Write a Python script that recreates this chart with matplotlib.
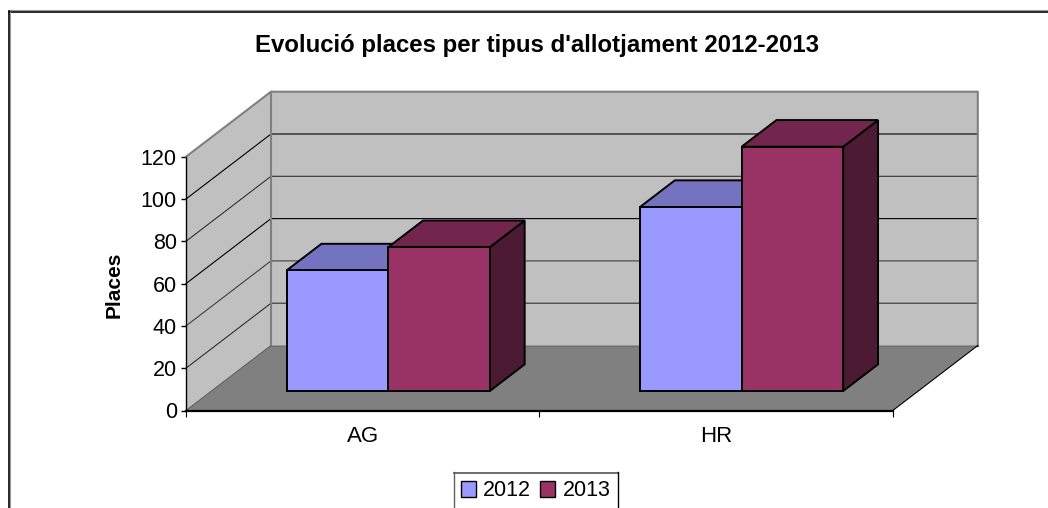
#!/usr/bin/env python3
"""Evolucio places per tipus d'allotjament 2012-2013, Excel style 3D columns."""

import matplotlib
matplotlib.use("Agg")
import matplotlib.pyplot as plt
from matplotlib.lines import Line2D
from matplotlib.patches import Patch, Polygon

# ---- data
categories = ["AG", "HR"]
years = ["2012", "2013"]
places_2012 = [57, 87]
places_2013 = [68, 115.5]
y_ticks = [0, 20, 40, 60, 80, 100, 120]

# ---- picture geometry, in pixels
W, H = 1048, 508
X0_PX, CAT_PX = 186.0, 353.4     # x of category 0, px per category
Y0_PX, VAL_PX = 410.5, 2.115     # y of value 0, px per value
DEPTH_X = 85 / CAT_PX            # full floor depth in category units
DEPTH_Y = 65 / VAL_PX            # full floor depth in value units
BAR_W = 0.2875
BAR_FRONT = 0.3                  # depth of the bar front, 0..1
BAR_BACK = 0.71

C_WALL = "#C0C0C0"
C_FLOOR = "#808080"
C_BARS = ["#9999FF", "#993366"]
C_TOPS = ["#7373BF", "#73264D"]
C_SIDES = ["#4D4D80", "#4D1A33"]

plt.rcParams["font.family"] = ["Liberation Sans", "DejaVu Sans"]


def proj(x, v, d):
    # oblique projection: depth moves a point up and to the right
    return (x + d * DEPTH_X, v + d * DEPTH_Y)


def face(ax, pts, color, edge="none", lw=0.0, z=1):
    ax.add_patch(Polygon([proj(*p) for p in pts], closed=True, facecolor=color,
                         edgecolor=edge, linewidth=lw, joinstyle="miter", zorder=z))


def draw_bar(ax, left, value, i, z):
    right = left + BAR_W
    f, b = BAR_FRONT, BAR_BACK
    face(ax, [(right, 0, f), (right, 0, b), (right, value, b), (right, value, f)],
         C_SIDES[i], "black", 1.4, z)
    face(ax, [(left, value, f), (right, value, f), (right, value, b), (left, value, b)],
         C_TOPS[i], "black", 1.4, z)
    face(ax, [(left, 0, f), (right, 0, f), (right, value, f), (left, value, f)],
         C_BARS[i], "black", 1.4, z)


fig = plt.figure(figsize=(W / 100, H / 100), dpi=100, facecolor="white")
ax = fig.add_axes([0, 0, 1, 1], facecolor="none")
ax.set_xlim(-X0_PX / CAT_PX, (W - X0_PX) / CAT_PX)
ax.set_ylim((Y0_PX - H) / VAL_PX, Y0_PX / VAL_PX)

top = y_ticks[-1]
n = len(categories)

# walls and floor
face(ax, [(0, 0, 0), (0, top, 0), (0, top, 1), (0, 0, 1)], C_WALL)
face(ax, [(0, 0, 1), (n, 0, 1), (n, top, 1), (0, top, 1)], C_WALL)
face(ax, [(0, 0, 0), (n, 0, 0), (n, 0, 1), (0, 0, 1)], C_FLOOR)

# gridlines run across the side wall and along the back wall
grid_colors = ["black", "#303030", "#404040", "black", "#303030", "black", "#808080"]
for v, c in zip(y_ticks, grid_colors):
    if v == 0 or v == top:
        continue
    xs, ys = zip(proj(0, v, 0), proj(0, v, 1), proj(n, v, 1))
    ax.plot(xs, ys, color=c, lw=0.8, zorder=2)

# wall outlines
xs, ys = zip(proj(0, top, 0), proj(0, top, 1), proj(n, top, 1), proj(n, 0, 1))
ax.plot(xs, ys, color="#808080", lw=1.5, zorder=2)
xs, ys = zip(proj(0, 0, 1), proj(0, top, 1))
ax.plot(xs, ys, color="#808080", lw=1.5, zorder=2)
xs, ys = zip(proj(0, 0, 0), proj(0, 0, 1))
ax.plot(xs, ys, color="#606060", lw=0.8, zorder=2)
xs, ys = zip(proj(0, 0, 1), proj(n, 0, 1))
ax.plot(xs, ys, color="#707070", lw=1.0, zorder=2)
xs, ys = zip(proj(n, 0, 0), proj(n, 0, 1))
ax.plot(xs, ys, color="black", lw=0.8, zorder=2)

# bars, left to right so that each one covers the top of the previous
for k in range(n):
    left = k + 0.5 - BAR_W
    draw_bar(ax, left, places_2012[k], 0, 3 + 2 * k)
    draw_bar(ax, left + BAR_W, places_2013[k], 1, 4 + 2 * k)

# axes
for name in ("top", "right"):
    ax.spines[name].set_visible(False)
ax.spines["left"].set_position(("data", 0))
ax.spines["left"].set_bounds(0, top)
ax.spines["left"].set_linewidth(1.0)
ax.spines["bottom"].set_position(("data", 0))
ax.spines["bottom"].set_bounds(0, n)
ax.spines["bottom"].set_linewidth(1.6)
ax.set_yticks(y_ticks)
ax.tick_params(axis="y", length=3.6, width=1.0, labelsize=15.5, pad=3)
ax.set_xticks(range(n + 1))
ax.set_xticklabels([])
ax.tick_params(axis="x", which="major", length=4, width=0.8)
ax.set_xticks([k + 0.5 for k in range(n)], minor=True)
ax.set_xticklabels(categories, minor=True)
ax.tick_params(axis="x", which="minor", length=0, labelsize=16, pad=11)

ax.set_ylabel("Places", fontsize=15, fontweight="bold")
ax.yaxis.set_label_coords((124 - X0_PX) / CAT_PX, (Y0_PX - 284.5) / VAL_PX,
                          transform=ax.transData)
ax.set_title("Evolució places per tipus d'allotjament 2012-2013", fontsize=17.3,
             fontweight="bold", x=537.5 / W, y=1 - 45.5 / H, va="center", pad=0)

# legend, its box runs off the bottom of the picture so the box is drawn apart
handles = [Patch(facecolor=c, edgecolor="black", linewidth=1.0) for c in C_BARS]
leg = ax.legend(handles, years, loc="center", ncol=2, fontsize=15.5,
                bbox_to_anchor=(535.5 / W, 1 - 491 / H),
                handlelength=0.7, handleheight=0.7, handletextpad=0.35,
                columnspacing=0.4, borderpad=0.3, borderaxespad=0,
                frameon=False)


# outer chart frame and legend box: drawn in picture pixels
def px_line(x, y, color, lw):
    fig.add_artist(Line2D([p / W for p in x], [1 - p / H for p in y],
                          color=color, lw=lw, transform=fig.transFigure))


px_line([8.5, W], [11.5, 11.5], "black", 1.2)
px_line([8.5, W], [10.3, 10.3], "#999999", 0.8)
px_line([8.5, 8.5], [11, H], "black", 1.2)
px_line([9.8, 9.8], [12, H], "#999999", 0.8)

px_line([454, 618], [472.5, 472.5], "#606060", 1.3)
px_line([454, 454], [472, H], "#606060", 1.0)
px_line([618, 618], [472, H], "black", 1.0)

fig.savefig("out.png", dpi=100)
